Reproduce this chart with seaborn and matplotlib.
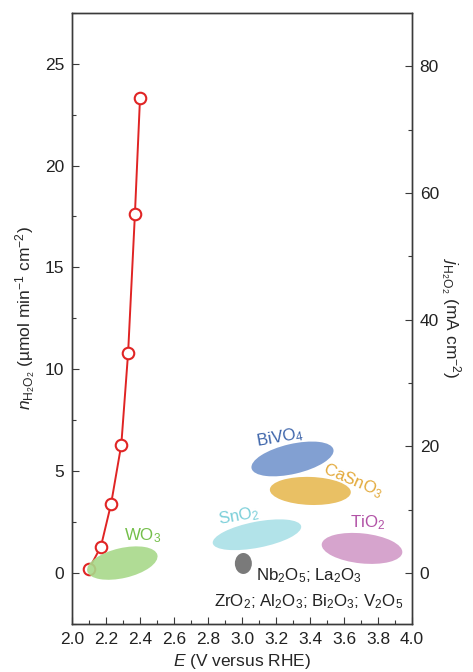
import matplotlib
matplotlib.use("Agg")
import matplotlib.pyplot as plt
import matplotlib.transforms as mtransforms
from matplotlib.patches import Ellipse
from matplotlib.ticker import MultipleLocator
import seaborn as sns
import pandas as pd

# ---- data ----
potential = [2.10, 2.17, 2.23, 2.29, 2.33, 2.37, 2.40]
production = [0.2, 1.3, 3.4, 6.3, 10.8, 17.6, 23.3]

materials = ["WO3", "BiVO4", "CaSnO3", "SnO2", "TiO2", "Nb2O5"]
mat_x = [2.296, 3.297, 3.402, 3.088, 3.706, 3.008]
mat_y = [0.49, 5.60, 4.03, 1.88, 1.21, 0.47]

conv = 3.216  # mA cm^-2 per umol min^-1 cm^-2

sns.set_style("ticks")
plt.rcParams["font.family"] = ["Liberation Sans", "DejaVu Sans"]
plt.rcParams["mathtext.fontset"] = "custom"
plt.rcParams["mathtext.rm"] = "Liberation Sans"
plt.rcParams["mathtext.it"] = "Liberation Sans:italic"
plt.rcParams["mathtext.bf"] = "Liberation Sans:bold"

fig = plt.figure(figsize=(4.73, 6.72), dpi=100)
ax = fig.add_axes([72 / 473, 48 / 672, 340 / 473, 611.3 / 672])

df = pd.DataFrame({"E": potential, "n": production})
sns.lineplot(data=df, x="E", y="n", ax=ax, color="#e02424", lw=1.4,
             marker="o", markersize=8.3, markerfacecolor="white",
             markeredgecolor="#e02424", markeredgewidth=1.5, zorder=2)

ax.set_xlim(2.0, 4.0)
ax.set_ylim(-2.5, 27.5)
ax.xaxis.set_minor_locator(MultipleLocator(0.1))
ax.yaxis.set_major_locator(MultipleLocator(5))
ax.yaxis.set_minor_locator(MultipleLocator(2.5))
ax.set_xticks([2.0 + 0.2 * i for i in range(11)])
ax.set_xticklabels([f"{2.0 + 0.2 * i:.1f}" for i in range(11)])

# ellipses (size in pixels, angle in display degrees)
ell_style = {
    "WO3": (72, 30, 13, "#a8d98a"),
    "BiVO4": (84, 30, 13, "#82a0d2"),
    "CaSnO3": (81, 28, -2, "#e9c064"),
    "SnO2": (90, 26, 11, "#b2e3e9"),
    "TiO2": (81, 30, -6, "#d6a4cd"),
    "Nb2O5": (17, 21, 0, "#7a7a7a"),
}
for m, cx, cy in zip(materials, mat_x, mat_y):
    w, h, ang, col = ell_style[m]
    tr = fig.dpi_scale_trans + mtransforms.ScaledTranslation(cx, cy, ax.transData)
    e = Ellipse((0, 0), w / 100, h / 100, angle=ang, transform=tr,
                facecolor=col, edgecolor="none", alpha=0.9 if m == "WO3" else 1.0,
                zorder=3)
    ax.add_patch(e)

fs = 12.2
ax.text(2.418, 1.83, r"WO$_3$", color="#74bf4a", fontsize=fs, ha="center", va="center")
ax.text(3.224, 6.67, r"BiVO$_4$", color="#3f66ab", fontsize=fs, ha="center", va="center", rotation=10)
ax.text(3.653, 4.52, r"CaSnO$_3$", color="#e3aa3c", fontsize=fs, ha="center", va="center", rotation=-23)
ax.text(2.982, 2.81, r"SnO$_2$", color="#7bcfd9", fontsize=fs, ha="center", va="center", rotation=10)
ax.text(3.741, 2.46, r"TiO$_2$", color="#b252a6", fontsize=fs, ha="center", va="center")
ax.text(3.394, -0.13, r"Nb$_2$O$_5$; La$_2$O$_3$", color="#222222", fontsize=fs, ha="center", va="center")
ax.text(3.394, -1.41, r"ZrO$_2$; Al$_2$O$_3$; Bi$_2$O$_3$; V$_2$O$_5$", color="#222222",
        fontsize=fs, ha="center", va="center")

lab_fs = 12.5
ax.set_xlabel(r"$\mathit{E}$ (V versus RHE)", fontsize=lab_fs, labelpad=4)
ax.set_ylabel(r"$\mathit{n}_{\mathrm{H_2O_2}}$ (µmol min$^{-1}$ cm$^{-2}$)", fontsize=lab_fs, labelpad=5)

ax2 = ax.twinx()
ax2.set_ylim(-2.5 * conv, 27.5 * conv)
ax2.yaxis.set_major_locator(MultipleLocator(20))
ax2.yaxis.set_minor_locator(MultipleLocator(10))
ax2.set_ylabel(r"$\mathit{j}_{\mathrm{H_2O_2}}$ (mA cm$^{-2}$)", fontsize=lab_fs, rotation=270, labelpad=17)

for a in (ax, ax2):
    for s in a.spines.values():
        s.set_visible(True)
        s.set_color("#3a3a3a")
        s.set_linewidth(1.0)
    a.tick_params(which="both", direction="in", labelsize=12.5, colors="#3a3a3a",
                  labelcolor="#222222", width=0.8)
    a.tick_params(which="major", length=5, pad=5.5)
    a.tick_params(which="minor", length=3)
ax.tick_params(axis="y", which="both", right=False)
ax.tick_params(axis="x", which="both", top=False)
ax2.tick_params(axis="y", which="both", left=False)

fig.savefig("out.png", dpi=100)
